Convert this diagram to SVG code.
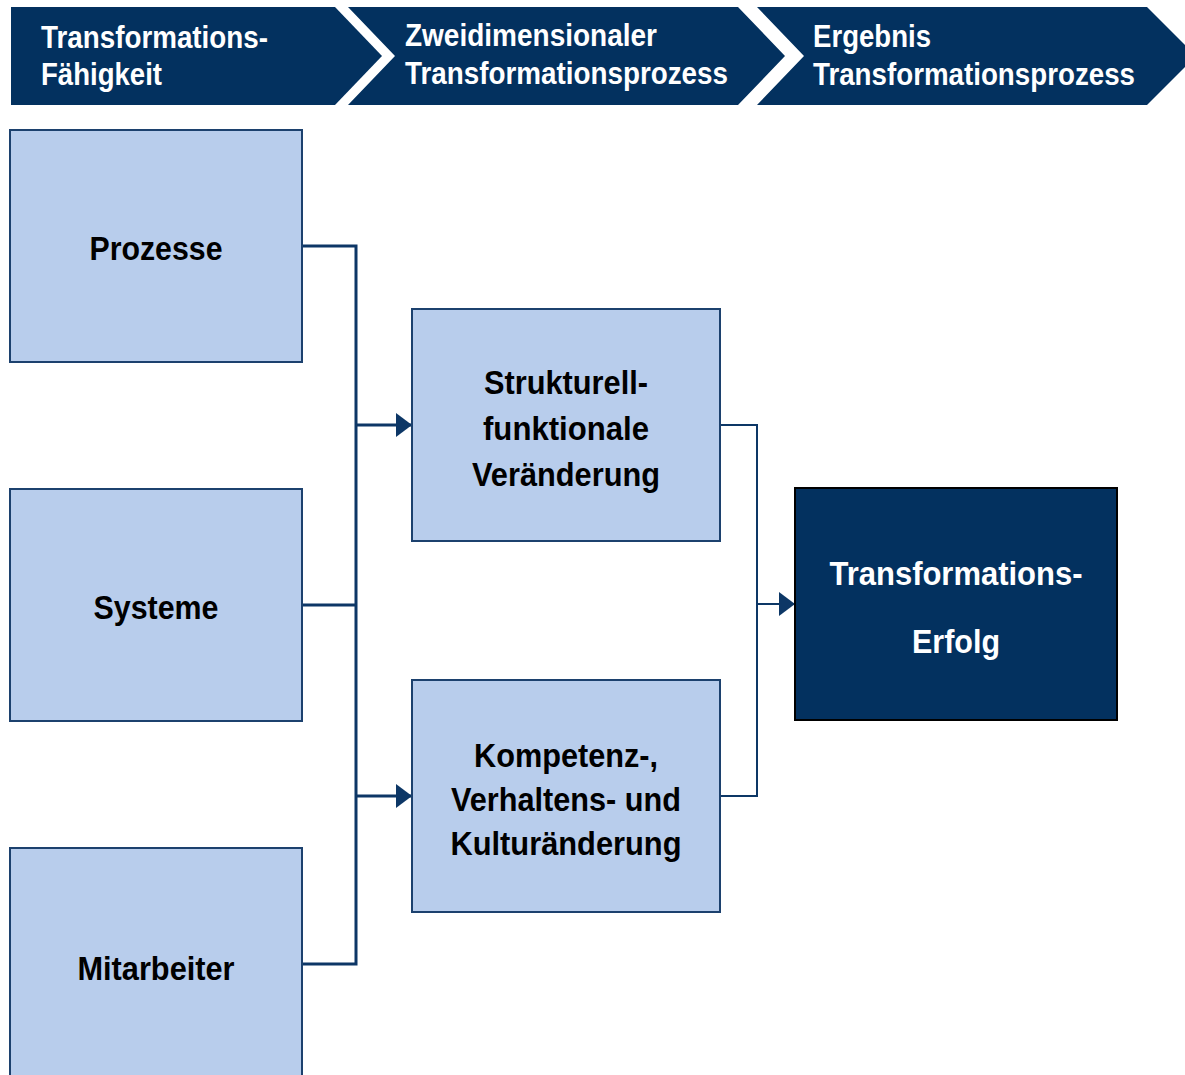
<svg xmlns="http://www.w3.org/2000/svg" width="1185" height="1075" viewBox="0 0 1185 1075">
<style>
.hdr{fill:#03315f}
.ht{font-family:"Liberation Sans",Arial,sans-serif;font-weight:bold;font-size:32px;fill:#ffffff}
.box{fill:#b8cdec;stroke:#1c416e;stroke-width:2}
.dark{fill:#03315f;stroke:#000000;stroke-width:2}
.bt{font-family:"Liberation Sans",Arial,sans-serif;font-weight:bold;font-size:34px;fill:#000000;text-anchor:middle}
.wt{font-family:"Liberation Sans",Arial,sans-serif;font-weight:bold;font-size:34px;fill:#ffffff;text-anchor:middle}
.ln{fill:none;stroke:#0d3766;stroke-width:3}
.ln2{fill:none;stroke:#0d3766;stroke-width:2}
</style>
<defs>
<marker id="arr" markerWidth="16" markerHeight="24" refX="16" refY="12" orient="auto" markerUnits="userSpaceOnUse">
<path d="M0,0 L16,12 L0,24 Z" fill="#0d3766"/>
</marker>
</defs>
<rect width="1185" height="1075" fill="#ffffff"/>
<g id="header1">
<polygon class="hdr" points="11,7 335,7 382,56 335,105 11,105"/>
<text class="ht" x="41" y="48" textLength="227" lengthAdjust="spacingAndGlyphs">Transformations-</text>
<text class="ht" x="41" y="85" textLength="121" lengthAdjust="spacingAndGlyphs">Fähigkeit</text>
</g>
<g id="header2">
<polygon class="hdr" points="348,7 738,7 785,56 738,105 348,105 395,56"/>
<text class="ht" x="405" y="46" textLength="252" lengthAdjust="spacingAndGlyphs">Zweidimensionaler</text>
<text class="ht" x="405" y="84" textLength="323" lengthAdjust="spacingAndGlyphs">Transformationsprozess</text>
</g>
<g id="header3">
<polygon class="hdr" points="757,7 1147,7 1196,56 1147,105 757,105 804,56"/>
<text class="ht" x="813" y="47" textLength="118" lengthAdjust="spacingAndGlyphs">Ergebnis</text>
<text class="ht" x="813" y="85" textLength="322" lengthAdjust="spacingAndGlyphs">Transformationsprozess</text>
</g>
<g id="connectors">
<polyline class="ln" points="302,246 356,246 356,964 302,964"/>
<line class="ln" x1="302" y1="605" x2="356" y2="605"/>
<line class="ln" x1="356" y1="425" x2="412" y2="425" marker-end="url(#arr)"/>
<line class="ln" x1="356" y1="796" x2="412" y2="796" marker-end="url(#arr)"/>
<polyline class="ln2" points="720,425 757,425 757,796 720,796"/>
<line class="ln2" x1="757" y1="604" x2="795" y2="604" marker-end="url(#arr)"/>
</g>
<g id="prozesse">
<rect class="box" x="10" y="130" width="292" height="232"/>
<text class="bt" x="156" y="260" textLength="133" lengthAdjust="spacingAndGlyphs">Prozesse</text>
</g>
<g id="systeme">
<rect class="box" x="10" y="489" width="292" height="232"/>
<text class="bt" x="156" y="619" textLength="125" lengthAdjust="spacingAndGlyphs">Systeme</text>
</g>
<g id="mitarbeiter">
<rect class="box" x="10" y="848" width="292" height="240"/>
<text class="bt" x="156" y="980" textLength="157" lengthAdjust="spacingAndGlyphs">Mitarbeiter</text>
</g>
<g id="strukturell">
<rect class="box" x="412" y="309" width="308" height="232"/>
<text class="bt" x="566" y="394" textLength="164" lengthAdjust="spacingAndGlyphs">Strukturell-</text>
<text class="bt" x="566" y="440" textLength="166" lengthAdjust="spacingAndGlyphs">funktionale</text>
<text class="bt" x="566" y="486" textLength="188" lengthAdjust="spacingAndGlyphs">Veränderung</text>
</g>
<g id="kompetenz">
<rect class="box" x="412" y="680" width="308" height="232"/>
<text class="bt" x="566" y="767" textLength="184" lengthAdjust="spacingAndGlyphs">Kompetenz-,</text>
<text class="bt" x="566" y="811" textLength="230" lengthAdjust="spacingAndGlyphs">Verhaltens- und</text>
<text class="bt" x="566" y="855" textLength="231" lengthAdjust="spacingAndGlyphs">Kulturänderung</text>
</g>
<g id="erfolg">
<rect class="dark" x="795" y="488" width="322" height="232"/>
<text class="wt" x="956" y="585" textLength="253" lengthAdjust="spacingAndGlyphs">Transformations-</text>
<text class="wt" x="956" y="653" textLength="88" lengthAdjust="spacingAndGlyphs">Erfolg</text>
</g>
</svg>
